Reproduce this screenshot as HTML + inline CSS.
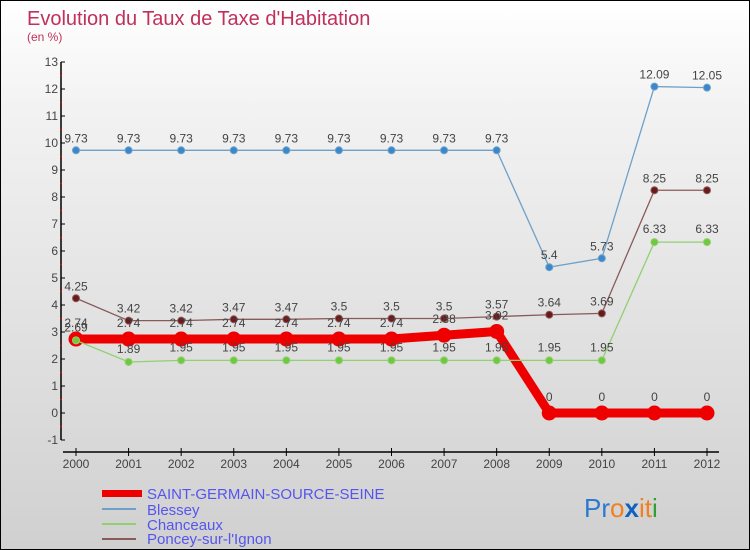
<!DOCTYPE html>
<html><head><meta charset="utf-8"><style>
body{margin:0}
#c{width:750px;height:550px;position:relative;box-sizing:border-box;border:1px solid #000;background:linear-gradient(#ffffff,#f2f2f2 20%,#d0d0d0);font-family:"Liberation Sans",sans-serif;overflow:hidden}
text{font-family:"Liberation Sans",sans-serif}
</style></head><body>
<div id="c">
<svg id="s" width="750" height="550">
<text x="26" y="24" font-size="20" fill="#c0305a">Evolution du Taux de Taxe d'Habitation</text>
<text x="26" y="40" font-size="12" fill="#c0305a">(en %)</text>
<g id="axes"></g><g id="series"></g>
<g>
<rect x="101" y="489" width="40" height="7" fill="#e00"/>
<text x="146" y="498" font-size="15" fill="#5555ee">SAINT-GERMAIN-SOURCE-SEINE</text>
<line x1="101" y1="508" x2="135" y2="508" stroke="#6fa0c8" stroke-width="2"/>
<text x="146" y="514" font-size="15" fill="#5555ee">Blessey</text>
<line x1="101" y1="523" x2="135" y2="523" stroke="#90d070" stroke-width="2"/>
<text x="146" y="529" font-size="15" fill="#5555ee">Chanceaux</text>
<line x1="101" y1="538" x2="135" y2="538" stroke="#8a5a5a" stroke-width="2"/>
<text x="146" y="543" font-size="15" fill="#5555ee">Poncey-sur-l'Ignon</text>
</g>
<g font-size="26">
<text x="583" y="516"><tspan fill="#2a7ad0">Pr</tspan><tspan fill="#f08020">o</tspan><tspan fill="#1060c0" font-weight="bold">x</tspan><tspan fill="#f08020">i</tspan><tspan fill="#f08020">t</tspan><tspan fill="#30a030">i</tspan></text>
</g>
</svg></div>
<script>
const years=[2000,2001,2002,2003,2004,2005,2006,2007,2008,2009,2010,2011,2012];
const saint=[2.74,2.74,2.74,2.74,2.74,2.74,2.74,2.88,3.02,0,0,0,0];
const blessey=[9.73,9.73,9.73,9.73,9.73,9.73,9.73,9.73,9.73,5.4,5.73,12.09,12.05];
const chanceaux=[2.69,1.89,1.95,1.95,1.95,1.95,1.95,1.95,1.95,1.95,1.95,6.33,6.33];
const poncey=[4.25,3.42,3.42,3.47,3.47,3.5,3.5,3.5,3.57,3.64,3.69,8.25,8.25];
const yTicks=[-1,0,1,2,3,4,5,6,7,8,9,10,11,12,13];
const NS='http://www.w3.org/2000/svg';
const X=i=>75+i*(706-75)/12, Y=v=>412-v*27;
function mk(t,a,p){const e=document.createElementNS(NS,t);for(const k in a)e.setAttribute(k,a[k]);p.appendChild(e);return e;}
const ax=document.getElementById('axes'),sg=document.getElementById('series');
let yl=mk('line',{x1:60,y1:Y(13),x2:60,y2:Y(-1),stroke:'#000','stroke-width':1.5},ax);


yTicks.forEach(v=>{mk('line',{x1:60,y1:Y(v),x2:64,y2:Y(v),stroke:'#000'},ax);
 if(v<13)mk('line',{x1:59,y1:Y(v+0.5),x2:61,y2:Y(v+0.5),stroke:'#f00'},ax);
 const t=mk('text',{x:57,y:Y(v)+4,'font-size':12,fill:'#444','text-anchor':'end'},ax);t.textContent=v;
 
 });
let xl=mk('line',{x1:62,y1:451,x2:718,y2:451,stroke:'#000','stroke-width':1.5},ax);


years.forEach((y,i)=>{mk('line',{x1:X(i),y1:447,x2:X(i),y2:455,stroke:'#000'},ax);
 const t=mk('text',{x:X(i),y:467,'font-size':12,fill:'#444','text-anchor':'middle'},ax);t.textContent=y;
 
 });
function series(vals,col,dot,w,r,name,lab){
 const g=mk('g',{},sg);
 
 
 mk('polyline',{points:vals.map((v,i)=>X(i)+','+Y(v)).join(' '),fill:'none',stroke:col,'stroke-width':w},g);
 vals.forEach((v,i)=>{const c=mk('circle',{cx:X(i),cy:Y(v),r:r,fill:dot,stroke:col,'stroke-width':1},g);
  
  
  const t=mk('text',{x:X(i),y:Y(v)+lab,'font-size':12,fill:'#444','text-anchor':'middle'},g);t.textContent=v;
  
  });
}
series(blessey,'#6fa0c8','#3a88cc',1.3,3.5,'blessey',-8);
series(poncey,'#8a5a5a','#6a1a1a',1.3,3.5,'poncey',-8);
series(saint,'#ee0000','#ee0000',9,7,'saint-germain',-12);
series(chanceaux,'#90d070','#70c840',1.3,3.5,'chanceaux',-9);
</script>
</body></html>
